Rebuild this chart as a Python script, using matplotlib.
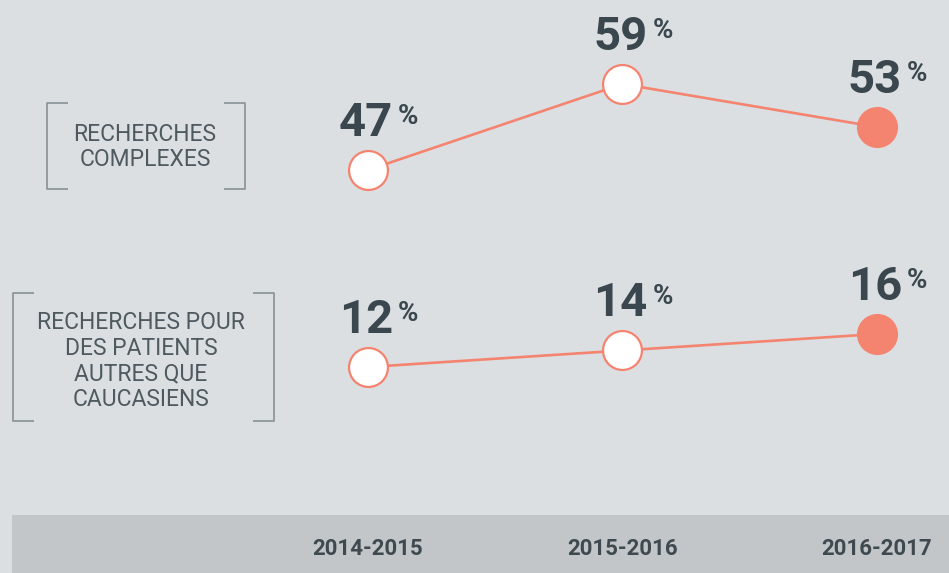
import matplotlib.pyplot as plt

years = ["2014-2015", "2015-2016", "2016-2017"]
complexes = [47, 59, 53]
non_caucasiens = [12, 14, 16]
labels = ["RECHERCHES\nCOMPLEXES", "RECHERCHES POUR\nDES PATIENTS\nAUTRES QUE\nCAUCASIENS"]

BG = "#dcdfe2"
BAND = "#c2c6c9"
SALMON = "#f4846f"
DARK = "#3a474e"
W, H = 949, 573

fig = plt.figure(figsize=(W / 100, H / 100), dpi=100, facecolor=BG)

# overlay in pixel coordinates for the bracket boxes
bg = fig.add_axes([0, 0, 1, 1], zorder=0)
bg.set_xlim(0, W)
bg.set_ylim(H, 0)
bg.axis("off")


def bracket(x0, x1, y0, y1, tick=21):
    kw = dict(color="#8d979c", lw=1.3, solid_capstyle="butt")
    bg.plot([x0 + tick, x0, x0, x0 + tick], [y0, y0, y1, y1], **kw)
    bg.plot([x1 - tick, x1, x1, x1 - tick], [y0, y0, y1, y1], **kw)


bracket(47, 245, 103, 189)
bracket(13, 274, 293, 421)
bg.text(145, 147, labels[0], ha="center", va="center", fontsize=16.5,
        family="Roboto", color="#4f5a60", linespacing=1.15)
bg.text(141, 361, labels[1], ha="center", va="center", fontsize=16.5,
        family="Roboto", color="#4f5a60", linespacing=1.15)

xlim = (-1.446, 2.283)


def series_axes(bottom_px, top_px, ylim, values):
    ax = fig.add_axes([0, 1 - bottom_px / H, 1, (bottom_px - top_px) / H], zorder=2)
    ax.set_xlim(*xlim)
    ax.set_ylim(*ylim)
    ax.axis("off")
    x = list(range(len(values)))
    ax.plot(x, values, color=SALMON, lw=1.9, zorder=1)
    ax.plot(x[:-1], values[:-1], "o", ms=28, mfc="white", mec=SALMON, mew=1.6, zorder=2)
    ax.plot(x[-1:], values[-1:], "o", ms=28, mfc=SALMON, mec=SALMON, mew=1.6, zorder=2)
    for xi, v in zip(x, values):
        ax.annotate(str(v), (xi, v), xytext=(25, 34), textcoords="offset pixels",
                    ha="right", va="baseline", fontsize=34, fontweight="bold",
                    family="Roboto", color=DARK)
        ax.annotate("%", (xi, v), xytext=(30, 46), textcoords="offset pixels",
                    ha="left", va="baseline", fontsize=20, fontweight="bold",
                    family="Roboto", color=DARK)
    return ax


series_axes(220, 20, (40.03, 67.93), complexes)
series_axes(450, 250, (1.94, 26.18), non_caucasiens)

band = fig.add_axes([12 / W, 0, 1 - 12 / W, 58 / H], zorder=1)
band.set_facecolor(BAND)
band.set_xlim(xlim[0] + 12 / 254.5, xlim[1])
band.set_ylim(0, 1)
for s in band.spines.values():
    s.set_visible(False)
band.set_xticks([])
band.set_yticks([])
for i, yr in enumerate(years):
    band.text(i, 0.41, yr, ha="center", va="center", fontsize=16,
              family="Roboto", fontweight="bold", color="#3f4a50")

fig.savefig("out.png", dpi=100, facecolor=BG)
